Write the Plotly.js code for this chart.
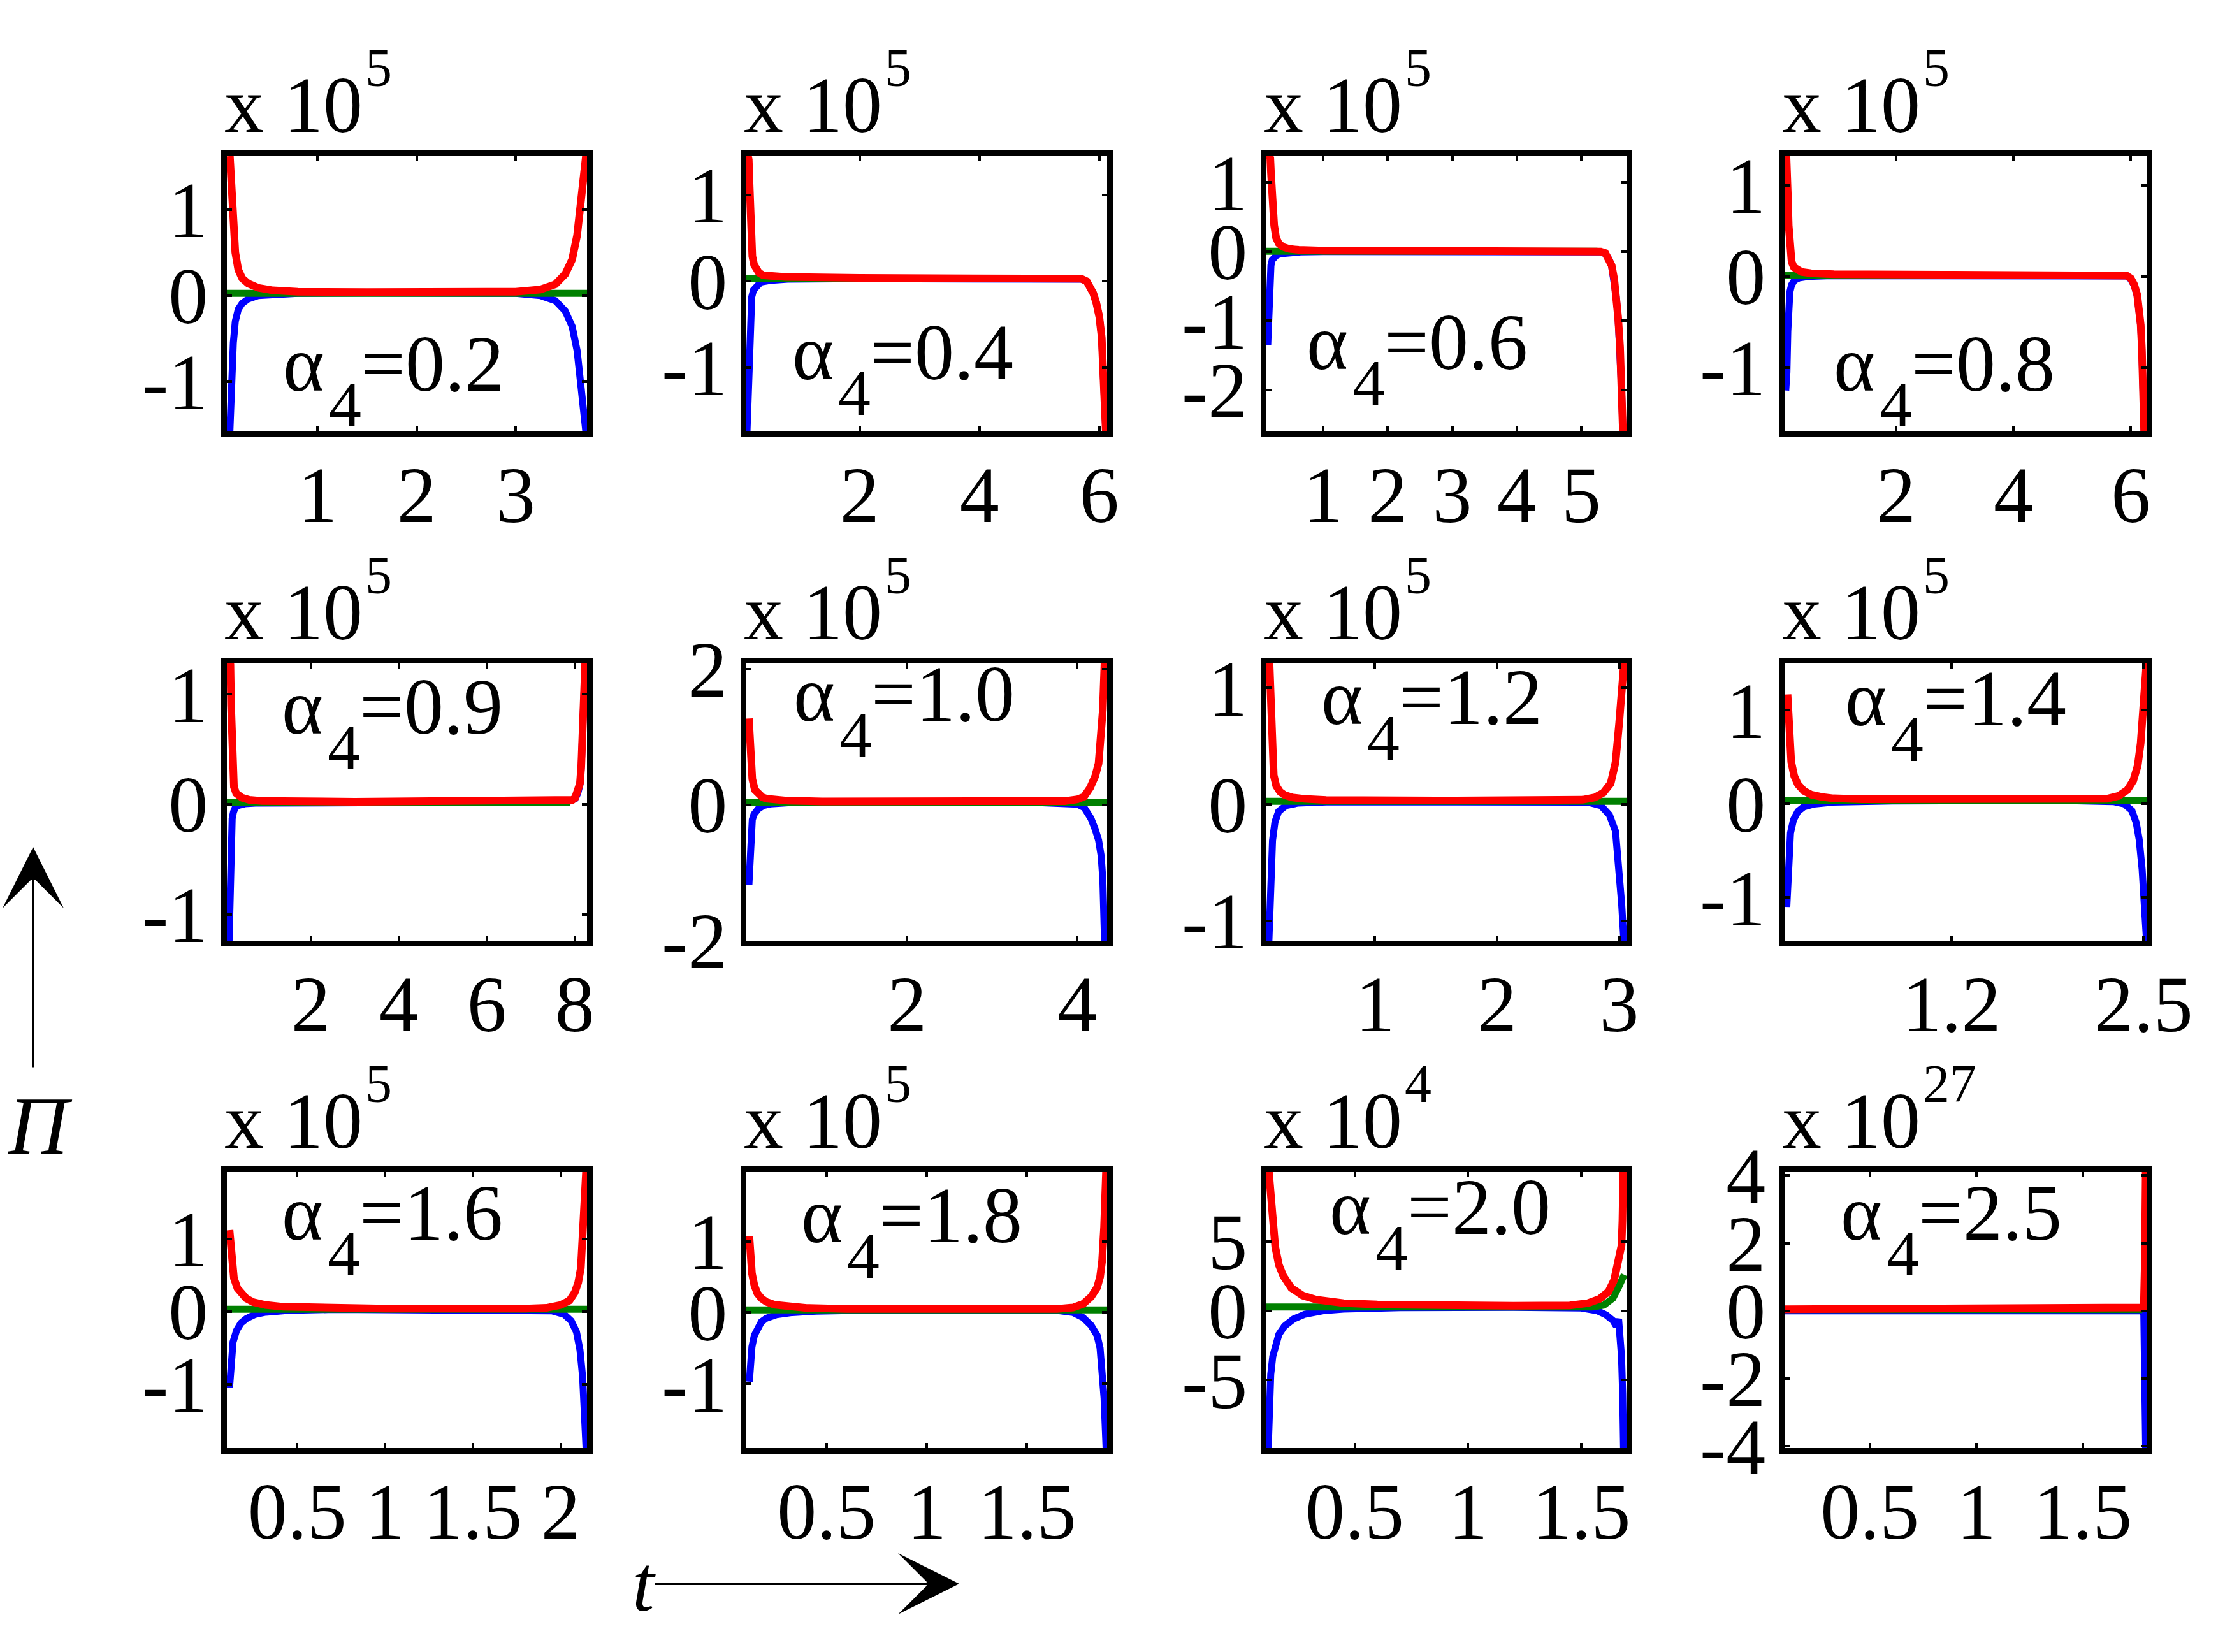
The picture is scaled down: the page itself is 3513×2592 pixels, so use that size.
<!DOCTYPE html>
<html><head><meta charset="utf-8">
<script src="https://cdn.plot.ly/plotly-3.0.1.min.js"></script>
<style>html,body{margin:0;padding:0;background:#fff;}#chart{width:3513px;height:2592px;}</style>
</head><body><div id="chart"></div>
<script>
// ---------------- DATA ----------------
const alphaLabels = ['0.2','0.4','0.6','0.8','0.9','1.0','1.2','1.4','1.6','1.8','2.0','2.5'];
const exponents   = ['5','5','5','5','5','5','5','5','5','5','4','27'];

const xRanges = [[0.085,3.72],[0.11,6.13],[0.12,5.70],[0.10,6.27],[0.09,8.28],[0.11,4.35],
                 [0.11,3.06],[0.07,2.52],[0.10,2.15],[0.10,1.90],[0.11,1.70],[0.10,1.80]];
const yRanges = [[-1.58,1.62],[-1.74,1.45],[-2.60,1.38],[-1.70,1.32],[-1.24,1.28],[-2.0,2.08],
                 [-1.17,1.21],[-1.46,1.50],[-1.88,1.92],[-1.90,1.97],[-9.9,10.0],[-4.05,4.10]];

const xTickVals = [[1,2,3],[2,4,6],[1,2,3,4,5],[2,4,6],[2,4,6,8],[2,4],[1,2,3],[1.2,2.5],
                   [0.5,1,1.5,2],[0.5,1,1.5],[0.5,1,1.5],[0.5,1,1.5]];
const xTickText = [['1','2','3'],['2','4','6'],['1','2','3','4','5'],['2','4','6'],['2','4','6','8'],['2','4'],
                   ['1','2','3'],['1.2','2.5'],['0.5','1','1.5','2'],['0.5','1','1.5'],['0.5','1','1.5'],['0.5','1','1.5']];
const yTickVals = [[-1,0,1],[-1,0,1],[-2,-1,0,1],[-1,0,1],[-1,0,1],[-2,0,2],[-1,0,1],[-1,0,1],
                   [-1,0,1],[-1,0,1],[-5,0,5],[-4,-2,0,2,4]];
const yTickText = [['-1','0','1'],['-1','0','1'],['-2','-1','0','1'],['-1','0','1'],['-1','0','1'],['-2','0','2'],
                   ['-1','0','1'],['-1','0','1'],['-1','0','1'],['-1','0','1'],['-5','0','5'],['-4','-2','0','2','4']];

// alpha4 = 0.2
const tR02 = [0.115,0.13,0.15,0.17,0.2,0.24,0.3,0.4,0.55,0.8,1.5,2.5,3.0,3.25,3.4,3.5,3.57,3.62,3.66,3.69,3.71];
const R02  = [1.62,1.2,0.8,0.5,0.3,0.2,0.14,0.09,0.06,0.045,0.04,0.04,0.045,0.07,0.13,0.25,0.42,0.7,1.05,1.4,1.63];
const tB02 = [0.115,0.13,0.15,0.17,0.2,0.24,0.3,0.4,0.55,0.8,1.5,2.5,3.0,3.25,3.4,3.5,3.57,3.62,3.66,3.69,3.71];
const B02  = [-1.58,-1.0,-0.55,-0.3,-0.16,-0.09,-0.04,0.0,0.015,0.025,0.03,0.03,0.025,0.0,-0.06,-0.18,-0.36,-0.64,-1.0,-1.35,-1.6];
const tG02 = [0.085,3.72];
const G02  = [0.025,0.025];

// alpha4 = 0.4
const tR04 = [0.13,0.15,0.165,0.18,0.195,0.21,0.24,0.27,0.32,0.39,0.55,0.76,2.0,5.5,5.7,5.79,5.85,5.9,5.95,6.0,6.04,6.07,6.09,6.11];
const R04  = [1.47,1.41,1.1,0.76,0.48,0.29,0.19,0.14,0.1,0.07,0.055,0.05,0.04,0.04,0.03,0.0,-0.06,-0.14,-0.25,-0.41,-0.65,-1.0,-1.35,-1.76];
const tB04 = [0.12,0.135,0.15,0.165,0.18,0.2,0.23,0.28,0.35,0.5,0.8,2.0,5.5,5.7,5.79,5.85,5.9,5.95,6.0,6.04,6.07,6.09,6.11];
const B04  = [-1.76,-1.42,-0.9,-0.5,-0.3,-0.18,-0.1,-0.05,-0.01,0.01,0.025,0.03,0.03,0.025,0.0,-0.06,-0.14,-0.25,-0.41,-0.65,-1.0,-1.35,-1.76];
const tG04 = [0.11,5.72];
const G04  = [0.03,0.03];

// alpha4 = 0.6
const tR06 = [0.16,0.18,0.19,0.205,0.22,0.24,0.27,0.31,0.37,0.47,0.62,1.0,3.0,5.1,5.22,5.3,5.37,5.43,5.47,5.51,5.54,5.57,5.6,5.62,5.645];
const R06  = [1.4,1.35,1.15,0.85,0.59,0.38,0.2,0.12,0.07,0.04,0.025,0.015,0.01,0.01,0.01,0.0,-0.02,-0.1,-0.2,-0.4,-0.64,-0.95,-1.38,-1.9,-2.62];
const tB06 = [0.14,0.155,0.17,0.19,0.21,0.24,0.28,0.35,0.45,0.65,1.0,3.0,5.1,5.22,5.3,5.37,5.43,5.47,5.51,5.54,5.57,5.6,5.62,5.645];
const B06  = [-1.35,-0.9,-0.45,-0.2,-0.12,-0.08,-0.05,-0.03,-0.015,-0.005,0.0,0.005,0.005,0.005,-0.005,-0.03,-0.11,-0.21,-0.41,-0.65,-0.96,-1.39,-1.91,-2.62];
const tG06 = [0.12,5.25];
const G06  = [0.005,0.005];

// alpha4 = 0.8
const tR08 = [0.13,0.14,0.155,0.17,0.19,0.22,0.26,0.32,0.39,0.55,0.94,3.0,5.83,5.93,6.0,6.06,6.11,6.15,6.17,6.19,6.21,6.23];
const R08  = [1.35,1.27,0.9,0.56,0.3,0.16,0.1,0.07,0.05,0.035,0.025,0.02,0.02,0.01,-0.02,-0.09,-0.2,-0.36,-0.53,-0.8,-1.2,-1.72];
const tB08 = [0.12,0.14,0.155,0.17,0.19,0.22,0.27,0.35,0.5,0.9,3.0,5.83,5.93,6.0,6.06,6.11,6.15,6.17,6.19,6.21,6.23];
const B08  = [-1.25,-1.05,-0.6,-0.35,-0.17,-0.09,-0.04,-0.015,0.0,0.01,0.015,0.015,0.005,-0.03,-0.1,-0.21,-0.37,-0.54,-0.81,-1.21,-1.72];
const tG08 = [0.10,5.9];
const G08  = [0.015,0.015];

// alpha4 = 0.9
const tR09 = [0.15,0.17,0.185,0.2,0.22,0.25,0.3,0.36,0.43,0.6,0.89,3.0,7.8,7.95,8.01,8.07,8.12,8.15,8.17,8.2,8.22,8.24];
const R09  = [1.3,1.27,0.9,0.59,0.3,0.16,0.1,0.075,0.06,0.04,0.03,0.023,0.023,0.04,0.06,0.11,0.19,0.35,0.59,0.85,1.12,1.3];
const tB09 = [0.14,0.155,0.17,0.19,0.21,0.24,0.28,0.35,0.5,0.8,1.5,4.0,7.8,7.95,8.01,8.07,8.12,8.15,8.17,8.2,8.22,8.24];
const B09  = [-1.24,-0.95,-0.5,-0.25,-0.13,-0.07,-0.03,-0.01,0.005,0.012,0.015,0.015,0.015,0.03,0.05,0.1,0.18,0.34,0.58,0.84,1.11,1.3];
const tG09 = [0.09,7.9];
const G09  = [0.018,0.018];

// alpha4 = 1.0
const tR10 = [0.14,0.15,0.16,0.18,0.21,0.25,0.3,0.35,0.45,0.6,1.0,2.0,3.5,3.85,4.0,4.08,4.15,4.21,4.25,4.28,4.3,4.32];
const R10  = [1.27,0.98,0.75,0.38,0.22,0.16,0.11,0.09,0.07,0.06,0.05,0.047,0.047,0.055,0.08,0.12,0.25,0.42,0.61,0.95,1.4,2.1];
const tB10 = [0.14,0.15,0.16,0.18,0.2,0.25,0.31,0.4,0.6,1.0,2.0,3.5,3.89,4.0,4.08,4.16,4.21,4.25,4.28,4.3,4.32];
const B10  = [-1.18,-0.75,-0.42,-0.22,-0.14,-0.06,-0.01,0.015,0.03,0.035,0.035,0.035,0.03,0.01,-0.04,-0.2,-0.36,-0.52,-0.75,-1.1,-2.0];
const tG10 = [0.11,4.35];
const G10  = [0.035,0.035];

// alpha4 = 1.2
const tR12 = [0.135,0.145,0.155,0.17,0.19,0.22,0.26,0.32,0.42,0.6,1.5,2.5,2.7,2.8,2.87,2.93,2.97,3.0,3.02,3.04];
const R12  = [1.22,0.8,0.45,0.25,0.16,0.11,0.08,0.06,0.048,0.038,0.033,0.033,0.04,0.06,0.1,0.18,0.36,0.7,1.0,1.22];
const tB12 = [0.13,0.14,0.15,0.16,0.18,0.21,0.27,0.37,0.6,1.5,2.5,2.74,2.85,2.92,2.97,3.0,3.02,3.04];
const B12  = [-1.18,-0.8,-0.5,-0.31,-0.15,-0.06,-0.01,0.012,0.022,0.025,0.025,0.02,-0.01,-0.09,-0.23,-0.52,-0.85,-1.2];
const tG12 = [0.11,3.06];
const G12  = [0.027,0.027];

// alpha4 = 1.4
const tR14 = [0.09,0.1,0.115,0.135,0.16,0.2,0.25,0.32,0.4,0.6,1.2,2.1,2.25,2.33,2.39,2.43,2.46,2.48,2.5,2.52];
const R14  = [1.17,0.8,0.45,0.3,0.21,0.14,0.1,0.075,0.06,0.05,0.045,0.045,0.055,0.085,0.15,0.25,0.41,0.65,1.0,1.52];
const tB14 = [0.085,0.095,0.11,0.13,0.16,0.2,0.27,0.4,0.8,2.0,2.3,2.37,2.42,2.45,2.47,2.49,2.51,2.52];
const B14  = [-1.1,-0.65,-0.31,-0.17,-0.08,-0.03,0.0,0.02,0.032,0.035,0.025,0.0,-0.07,-0.2,-0.38,-0.7,-1.1,-1.47];
const tG14 = [0.07,2.52];
const G14  = [0.035,0.035];

// alpha4 = 1.6
const tR16 = [0.115,0.125,0.14,0.16,0.18,0.21,0.25,0.32,0.42,0.6,1.0,1.8,1.92,2.0,2.05,2.08,2.1,2.115,2.125,2.135,2.145];
const R16  = [1.12,0.75,0.46,0.32,0.25,0.18,0.13,0.09,0.065,0.05,0.04,0.04,0.05,0.09,0.15,0.26,0.4,0.6,0.95,1.4,1.95];
const tB16 = [0.115,0.125,0.135,0.155,0.18,0.21,0.26,0.32,0.45,0.7,1.2,1.85,1.95,2.02,2.06,2.09,2.11,2.125,2.135,2.145];
const B16  = [-1.05,-0.7,-0.42,-0.26,-0.16,-0.1,-0.04,-0.01,0.015,0.028,0.03,0.028,0.01,-0.04,-0.13,-0.28,-0.53,-0.9,-1.3,-1.9];
const tG16 = [0.10,2.15];
const G16  = [0.032,0.032];

// alpha4 = 1.8
const tR18 = [0.115,0.12,0.128,0.14,0.155,0.175,0.2,0.24,0.3,0.4,0.6,1.0,1.65,1.73,1.78,1.82,1.85,1.865,1.875,1.885,1.895];
const R18  = [1.07,0.8,0.55,0.38,0.27,0.2,0.15,0.11,0.085,0.065,0.05,0.047,0.05,0.07,0.12,0.22,0.35,0.5,0.72,1.2,2.0];
const tB18 = [0.115,0.12,0.128,0.14,0.155,0.175,0.2,0.25,0.33,0.45,0.7,1.2,1.65,1.73,1.78,1.82,1.85,1.865,1.875,1.885,1.895];
const B18  = [-0.97,-0.7,-0.48,-0.32,-0.21,-0.13,-0.08,-0.03,0.0,0.02,0.032,0.036,0.03,0.0,-0.07,-0.18,-0.32,-0.5,-0.75,-1.2,-1.9];
const tG18 = [0.10,1.90];
const G18  = [0.038,0.038];

// alpha4 = 2.0  (x 10^4)
const tR20 = [0.12,0.125,0.134,0.149,0.165,0.185,0.22,0.27,0.33,0.45,0.6,0.8,1.2,1.45,1.53,1.58,1.62,1.645,1.66,1.672,1.678,1.682,1.686];
const R20  = [10.2,9.0,7.1,4.6,3.3,2.5,1.64,1.1,0.8,0.55,0.45,0.4,0.36,0.38,0.55,0.85,1.37,2.2,3.5,4.6,4.7,6.5,10.2];
const tB20 = [0.118,0.122,0.129,0.138,0.149,0.165,0.19,0.23,0.28,0.36,0.45,0.7,1.2,1.5,1.57,1.61,1.64,1.655,1.665,1.672,1.678,1.683,1.687];
const B20  = [-9.9,-7.0,-4.6,-3.3,-2.46,-1.7,-1.1,-0.6,-0.25,0.0,0.12,0.22,0.25,0.2,0.0,-0.3,-0.7,-1.1,-0.6,-1.6,-3.3,-6.0,-9.9];
const tG20 = [0.11,1.55,1.6,1.64,1.665,1.68,1.69];
const G20  = [0.27,0.27,0.4,0.9,1.7,2.4,2.6];

// alpha4 = 2.5  (x 10^27)
const tR25 = [0.10,1.0,1.78,1.787,1.792,1.796];
const R25  = [0.05,0.05,0.05,0.1,1.5,4.2];
const tB25 = [0.10,1.78,1.787,1.792,1.796];
const B25  = [0.0,0.0,-0.1,-1.5,-4.2];
const tG25 = [0.10,1.78];
const G25  = [0.04,0.04];

const redT   = [tR02,tR04,tR06,tR08,tR09,tR10,tR12,tR14,tR16,tR18,tR20,tR25];
const redY   = [R02,R04,R06,R08,R09,R10,R12,R14,R16,R18,R20,R25];
const blueT  = [tB02,tB04,tB06,tB08,tB09,tB10,tB12,tB14,tB16,tB18,tB20,tB25];
const blueY  = [B02,B04,B06,B08,B09,B10,B12,B14,B16,B18,B20,B25];
const greenT = [tG02,tG04,tG06,tG08,tG09,tG10,tG12,tG14,tG16,tG18,tG20,tG25];
const greenY = [G02,G04,G06,G08,G09,G10,G12,G14,G16,G18,G20,G25];

// ---------------- LAYOUT (pixel geometry of the page) ----------------
const W = 3513, H = 2592;
const colL = [356, 1171, 1987, 2800], colR = [921, 1737, 2552, 3368];
const rowT = [245, 1041, 1839], rowB = [677, 1476, 2272];
const labDx = [92, 76, 67, 81, 90, 78, 90, 99, 90, 90, 103, 92];
const labDy = [372, 354, 338, 372, 114, 94, 99, 101, 110, 114, 101, 110];
const FONT = 'Liberation Serif, Times New Roman, serif';
const COLORS = {red:'#ff0000', blue:'#0000ff', green:'#008000'};

function txt(text, xPx, basePx, size, anchor) {
  return {text: text, xref:'paper', yref:'paper', x: xPx / W,
          y: 1 - (basePx + size * 0.216) / H, xanchor: anchor || 'left', yanchor: 'bottom',
          showarrow: false, borderpad: 0, borderwidth: 0,
          font: {family: FONT, size: size, color: '#000'}};
}

const traces = [];
const layout = {width: W, height: H, margin: {l:0, r:0, t:0, b:0},
  paper_bgcolor: '#fff', plot_bgcolor: '#fff', showlegend: false, annotations: []};

const axisCommon = {showline:true, linecolor:'#000', linewidth:9, mirror:'ticks', ticks:'inside',
  ticklen:8, tickwidth:4, tickcolor:'#000', showgrid:false, zeroline:false, tickangle:0,
  tickfont:{family: FONT, size:124, color:'#000'}, fixedrange:true};

for (let i = 0; i < 12; i++) {
  const r = Math.floor(i / 4), c = i % 4;
  const sfx = i === 0 ? '' : String(i + 1);
  const xa = 'x' + sfx, ya = 'y' + sfx;
  layout['xaxis' + sfx] = Object.assign({}, axisCommon, {
    domain: [colL[c] / W, colR[c] / W], anchor: ya, range: xRanges[i],
    tickmode:'array', tickvals: xTickVals[i], ticktext: xTickText[i], ticklabelstandoff: -16});
  layout['yaxis' + sfx] = Object.assign({}, axisCommon, {
    domain: [1 - rowB[r] / H, 1 - rowT[r] / H], anchor: xa, range: yRanges[i],
    tickmode:'array', tickvals: yTickVals[i], ticktext: yTickText[i], ticklabelstandoff: -4});

  traces.push({x: blueT[i], y: blueY[i], xaxis: xa, yaxis: ya, mode:'lines',
               line:{color: COLORS.blue, width: 11}, hoverinfo:'skip'});
  traces.push({x: greenT[i], y: greenY[i], xaxis: xa, yaxis: ya, mode:'lines',
               line:{color: COLORS.green, width: 11}, hoverinfo:'skip'});
  traces.push({x: redT[i], y: redY[i], xaxis: xa, yaxis: ya, mode:'lines',
               line:{color: COLORS.red, width: 12}, hoverinfo:'skip'});

  // "x 10^n" multiplier label
  const bl = colL[c] - 4, bt = rowT[r] - 4;
  layout.annotations.push(txt('x 10', bl, bt - 34, 124));
  layout.annotations.push(txt(exponents[i], bl + 221, bt - 106, 84));

  // alpha_4 = value label
  const ax0 = bl + labDx[i], base = bt + labDy[i];
  layout.annotations.push(txt('α', ax0, base, 124));
  layout.annotations.push(txt('4', ax0 + 72, base + 56, 102));
  layout.annotations.push(txt('=' + alphaLabels[i], ax0 + 122, base, 124));
}

// axis arrows and symbols
layout.annotations.push({x: 52 / W, y: 1 - 1329 / H, xref:'paper', yref:'paper', ax: 0, ay: 347,
  text:'', showarrow:true, arrowhead:3, arrowsize:4, arrowwidth:4, arrowcolor:'#000', standoff:0});
layout.annotations.push({x: 1505 / W, y: 1 - 2485 / H, xref:'paper', yref:'paper', ax: -479, ay: 0,
  text:'', showarrow:true, arrowhead:3, arrowsize:4, arrowwidth:4, arrowcolor:'#000', standoff:0});
layout.annotations.push(txt('<i>Π</i>', 62, 1810, 130, 'center'));
layout.annotations.push(txt('<i>t</i>', 1011, 2527, 124, 'center'));

Plotly.newPlot('chart', traces, layout, {staticPlot:true, displayModeBar:false});
</script></body></html>
